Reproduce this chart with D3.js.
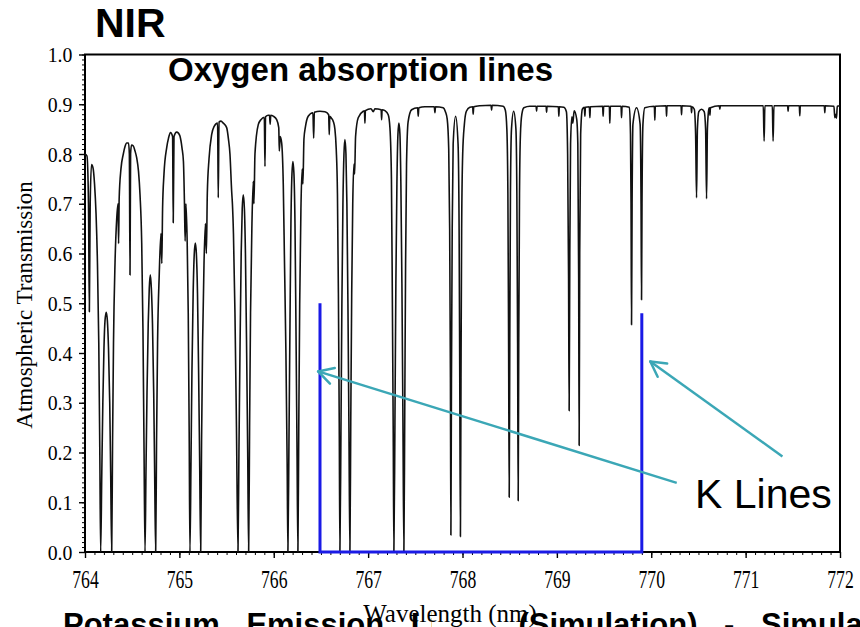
<!DOCTYPE html>
<html>
<head>
<meta charset="utf-8">
<script src="https://cdn.jsdelivr.net/npm/d3@7"></script>
<style>
  body { margin: 0; background: #fff; }
  svg { display: block; }
</style>
</head>
<body>
<svg></svg>
<script>
// O2 A-band transmission, [wavelength nm, transmission]
const oxygenSpectrum = [
  [764.000,.800],[764.021,.796],[764.037,.70],[764.046,.483],[764.055,.70],[764.069,.779],[764.085,.772],[764.101,.74],[764.117,.68],[764.132,.58],[764.146,.42],[764.157,.20],[764.166,0],
  [764.178,.16],[764.189,.30],[764.201,.41],[764.212,.465],[764.225,.482],[764.237,.465],[764.249,.41],[764.262,.30],[764.272,.16],[764.283,0],
  [764.292,.22],[764.302,.42],[764.318,.58],[764.336,.67],[764.350,.70],[764.356,.62],[764.362,.71],[764.381,.77],[764.406,.80],[764.424,.815],[764.442,.822],[764.461,.822],[764.470,.80],[764.477,.557],[764.483,.80],[764.493,.818],[764.512,.816],[764.530,.806],[764.548,.792],[764.567,.765],[764.583,.718],[764.601,.62],[764.614,.45],[764.625,.22],[764.636,0],
  [764.646,.16],[764.657,.32],[764.670,.46],[764.681,.53],[764.692,.557],[764.703,.53],[764.715,.46],[764.728,.32],[764.738,.16],[764.749,0],
  [764.758,.22],[764.769,.42],[764.787,.56],[764.805,.64],[764.814,.58],[764.822,.69],[764.837,.76],[764.865,.812],[764.885,.832],[764.906,.843],[764.928,.835],[764.935,.662],[764.943,.835],[764.971,.844],[764.990,.842],[765.006,.836],[765.028,.812],[765.043,.785],[765.054,.70],[765.061,.625],[765.070,.70],[765.083,.62],[765.094,.48],[765.104,.24],[765.112,0],
  [765.123,.18],[765.133,.36],[765.146,.52],[765.158,.60],[765.169,.621],[765.180,.60],[765.192,.52],[765.204,.36],[765.215,.18],[765.226,0],
  [765.235,.22],[765.246,.42],[765.261,.58],[765.276,.66],[765.286,.60],[765.296,.72],[765.314,.79],[765.342,.839],[765.367,.855],[765.405,.862],[765.412,.712],[765.420,.864],[765.441,.866],[765.465,.862],[765.501,.853],[765.520,.83],[765.536,.80],[765.554,.725],[765.562,.70],[765.573,.64],[765.589,.48],[765.605,.25],[765.621,0],
  [765.631,.20],[765.642,.40],[765.655,.60],[765.666,.69],[765.677,.718],[765.689,.69],[765.700,.60],[765.713,.40],[765.724,.20],[765.734,0],
  [765.744,.25],[765.754,.48],[765.769,.66],[765.783,.745],[765.790,.70],[765.801,.80],[765.836,.859],[765.864,.869],[765.900,.874],[765.907,.775],[765.913,.875],[765.942,.878],[765.955,.878],[765.962,.86],[765.968,.878],[765.995,.876],[766.031,.869],[766.053,.853],[766.059,.806],[766.068,.835],[766.084,.822],[766.101,.738],[766.114,.58],[766.129,.40],[766.142,.18],[766.150,0],
  [766.161,.22],[766.172,.46],[766.182,.66],[766.193,.76],[766.203,.785],[766.214,.76],[766.225,.66],[766.235,.46],[766.246,.22],[766.256,0],
  [766.265,.25],[766.275,.50],[766.288,.69],[766.301,.77],[766.309,.74],[766.320,.83],[766.336,.855],[766.365,.876],[766.415,.883],[766.423,.832],[766.430,.884],[766.489,.886],[766.542,.885],[766.582,.879],[766.588,.839],[766.594,.876],[766.611,.872],[766.630,.866],[766.648,.85],[766.662,.81],[766.675,.72],[766.685,.52],[766.694,.26],[766.701,0],
  [766.712,.24],[766.722,.50],[766.733,.70],[766.744,.80],[766.754,.829],[766.765,.80],[766.775,.70],[766.786,.50],[766.797,.24],[766.807,0],
  [766.816,.26],[766.826,.52],[766.837,.70],[766.850,.78],[766.857,.76],[766.867,.835],[766.895,.873],[766.948,.886],[766.961,.887],[766.966,.862],[766.971,.887],[767.030,.891],[767.054,.885],[767.072,.891],[767.138,.889],[767.143,.869],[767.148,.889],[767.178,.887],[767.213,.879],[767.231,.853],[767.247,.75],[767.257,.50],[767.266,.24],[767.273,0],
  [767.284,.26],[767.294,.54],[767.305,.74],[767.316,.84],[767.326,.862],[767.337,.84],[767.347,.74],[767.358,.54],[767.369,.26],[767.379,0],
  [767.388,.28],[767.397,.58],[767.407,.78],[767.424,.865],[767.461,.889],[767.524,.893],[767.531,.876],[767.537,.893],[767.602,.895],[767.701,.895],[767.708,.883],[767.714,.895],[767.795,.893],[767.819,.885],[767.838,.87],[767.854,.81],[767.864,.65],[767.872,.35],[767.877,.034],
  [767.883,.35],[767.891,.65],[767.901,.82],[767.927,.876],[767.953,.82],[767.964,.65],[767.971,.35],[767.978,.031],
  [767.984,.35],[767.991,.65],[768.002,.80],[768.020,.86],[768.041,.886],[768.078,.894],[768.108,.895],[768.113,.88],[768.119,.895],[768.184,.897],[768.303,.898],[768.308,.888],[768.314,.898],[768.431,.896],[768.454,.888],[768.470,.85],[768.481,.72],[768.489,.40],[768.495,.11],
  [768.501,.42],[768.508,.72],[768.519,.85],[768.542,.886],[768.566,.85],[768.576,.72],[768.584,.42],[768.590,.103],
  [768.596,.42],[768.604,.72],[768.614,.84],[768.629,.88],[768.650,.893],[768.714,.896],[768.780,.896],[768.785,.886],[768.790,.896],[768.886,.896],[768.891,.884],[768.896,.896],[769.016,.895],[769.021,.876],[769.026,.895],[769.074,.894],[769.101,.885],[769.114,.80],[769.124,.55],[769.130,.284],
  [769.137,.60],[769.145,.82],[769.159,.875],[769.169,.862],[769.183,.887],[769.210,.87],[769.222,.82],[769.231,.55],[769.236,.214],
  [769.242,.60],[769.252,.84],[769.270,.89],[769.291,.894],[769.297,.876],[769.302,.894],[769.344,.895],[769.350,.873],[769.355,.895],[769.485,.896],[769.490,.876],[769.496,.896],[769.556,.896],[769.561,.862],[769.567,.896],[769.680,.896],[769.685,.873],[769.691,.896],[769.768,.894],[769.780,.84],[769.786,.70],[769.791,.457],
  [769.797,.70],[769.806,.86],[769.844,.893],[769.882,.86],[769.892,.70],[769.897,.507],
  [769.902,.70],[769.912,.86],[769.932,.893],[770.033,.896],[770.038,.868],[770.043,.896],[770.157,.897],[770.162,.876],[770.167,.897],[770.316,.897],[770.321,.879],[770.326,.897],[770.422,.896],[770.427,.883],[770.432,.895],[770.456,.89],[770.470,.84],[770.480,.712],
  [770.489,.85],[770.504,.885],[770.533,.89],[770.561,.885],[770.576,.85],[770.586,.71],
  [770.595,.85],[770.610,.89],[770.616,.893],[770.622,.878],[770.627,.893],[770.721,.897],[770.727,.89],[770.732,.897],[771.187,.897],[771.196,.826],[771.204,.897],[771.283,.897],[771.291,.826],[771.300,.897],[771.445,.897],[771.450,.886],[771.455,.897],[771.569,.897],[771.574,.877],[771.579,.897],[771.834,.897],[771.839,.883],[771.844,.897],[771.936,.896],[771.945,.873],[771.953,.88],[771.963,.872],[771.971,.896],[772.000,.897]
];

// simulated potassium emission lines
const kLineWl = [766.49, 769.90];
const kLineHeight = [0.50, 0.48];

const xTickValues = [764, 765, 766, 767, 768, 769, 770, 771, 772];
const yTickValues = [0, 0.1, 0.2, 0.3, 0.4, 0.5, 0.6, 0.7, 0.8, 0.9, 1.0];

// annotation arrows in data units: tail -> head
const arrowTail = [[770.27, 0.139], [771.39, 0.192]];
const arrowHead = [[766.47, 0.363], [769.99, 0.383]];

const W = 860, H = 627;
const svg = d3.select("svg").attr("width", W).attr("height", H)
    .style("font-family", "'Liberation Serif', 'Times New Roman', serif");

const x = d3.scaleLinear().domain([764, 772]).range([85, 840]);
const y = d3.scaleLinear().domain([0, 1]).range([552, 54.5]);

// bottom caption (cut off by the slide edge) - drawn first, label box sits on top
svg.append("text")
    .attr("x", 63).attr("y", 635)
    .style("font-family", "'Liberation Sans', Arial, sans-serif")
    .style("font-weight", "bold").style("font-size", "31px")
    .style("word-spacing", "18px")
    .text("Potassium Emission Lines (Simulation) - Simulated");

// minor ticks
svg.append("g")
    .attr("transform", `translate(0,${y(0)})`)
    .call(d3.axisBottom(x).ticks(80).tickSize(3).tickFormat(""))
    .call(g => g.select(".domain").remove())
    .call(g => g.selectAll("line").attr("stroke-width", 1));
svg.append("g")
    .attr("transform", `translate(${x(764)},0)`)
    .call(d3.axisLeft(y).ticks(100).tickSize(3).tickFormat(""))
    .call(g => g.select(".domain").remove())
    .call(g => g.selectAll("line").attr("stroke-width", 1));

// major axes
const xAxis = svg.append("g")
    .attr("transform", `translate(0,${y(0)})`)
    .call(d3.axisBottom(x).tickValues(xTickValues).tickSize(6).tickPadding(12).tickFormat(d3.format("d")));
xAxis.select(".domain").remove();
xAxis.selectAll("line").attr("stroke-width", 1.4);
xAxis.selectAll("text")
    .attr("fill", "#000")
    .style("font-family", "'Liberation Serif', serif")
    .style("font-size", "26px")
    .attr("transform", "scale(0.68,1)");

const yAxis = svg.append("g")
    .attr("transform", `translate(${x(764)},0)`)
    .call(d3.axisLeft(y).tickValues(yTickValues).tickSize(6).tickPadding(8).tickFormat(d3.format(".1f")));
yAxis.select(".domain").remove();
yAxis.selectAll("line").attr("stroke-width", 1.4);
yAxis.selectAll("text")
    .attr("fill", "#000")
    .style("font-family", "'Liberation Serif', serif")
    .style("font-size", "22px")
    .attr("transform", "scale(0.9,1)");

// plot frame
svg.append("rect")
    .attr("x", x(764)).attr("y", y(1))
    .attr("width", x(772) - x(764)).attr("height", y(0) - y(1))
    .attr("fill", "none").attr("stroke", "#000").attr("stroke-width", 2);

// oxygen spectrum
const line = d3.line()
    .x(d => x(d[0]))
    .y(d => y(d[1]))
    .curve(d3.curveMonotoneX);

svg.append("path")
    .datum(oxygenSpectrum)
    .attr("d", line)
    .attr("fill", "none")
    .attr("stroke", "#111")
    .attr("stroke-width", 1.6)
    .attr("stroke-linejoin", "round");

// K emission: two lines joined along the zero baseline
const kPath = [
    [kLineWl[0], kLineHeight[0]], [kLineWl[0], 0],
    [kLineWl[1], 0], [kLineWl[1], kLineHeight[1]]
];
svg.append("path")
    .datum(kPath)
    .attr("d", d3.line().x(d => x(d[0])).y(d => y(d[1])))
    .attr("fill", "none")
    .attr("stroke", "#1a1ae6")
    .attr("stroke-width", 3);

// arrows
const teal = "#3ba7b6";
arrowTail.forEach((t, i) => {
    const h = arrowHead[i];
    const x1 = x(t[0]), y1 = y(t[1]), x2 = x(h[0]), y2 = y(h[1]);
    svg.append("line")
        .attr("x1", x1).attr("y1", y1).attr("x2", x2).attr("y2", y2)
        .attr("stroke", teal).attr("stroke-width", 2.5);
    const ang = Math.atan2(y1 - y2, x1 - x2);
    const len = 17, spread = 0.5;
    [-spread, spread].forEach(s => {
        svg.append("line")
            .attr("x1", x2).attr("y1", y2)
            .attr("x2", x2 + len * Math.cos(ang + s))
            .attr("y2", y2 + len * Math.sin(ang + s))
            .attr("stroke", teal).attr("stroke-width", 2.5)
            .attr("stroke-linecap", "round");
    });
});

// titles and labels
svg.append("text")
    .attr("x", 95).attr("y", 37)
    .style("font-family", "'Liberation Sans', Arial, sans-serif")
    .style("font-weight", "bold").style("font-size", "41px")
    .text("NIR");

svg.append("text")
    .attr("x", 168).attr("y", 81)
    .style("font-family", "'Liberation Sans', Arial, sans-serif")
    .style("font-weight", "bold").style("font-size", "33px")
    .text("Oxygen absorption lines");

svg.append("text")
    .attr("x", 695).attr("y", 508)
    .style("font-family", "'Liberation Sans', Arial, sans-serif")
    .style("font-size", "41px")
    .text("K Lines");

svg.append("text")
    .attr("transform", "translate(32,305) rotate(-90)")
    .attr("text-anchor", "middle")
    .style("font-size", "23px")
    .text("Atmospheric Transmission");

svg.append("rect")
    .attr("x", 432).attr("y", 600).attr("width", 62).attr("height", 27)
    .attr("fill", "#fff");
svg.append("text")
    .attr("x", 450).attr("y", 622)
    .attr("text-anchor", "middle")
    .style("font-size", "25px")
    .text("Wavelength (nm)");
</script>
</body>
</html>
